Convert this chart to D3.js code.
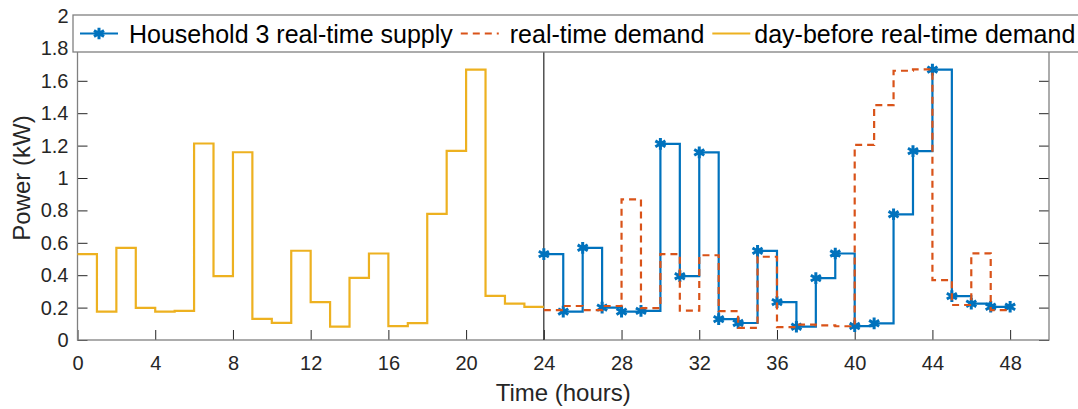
<!DOCTYPE html>
<html>
<head>
<meta charset="utf-8">
<script src="https://cdn.jsdelivr.net/npm/d3@7"></script>
<style>
  body { margin: 0; background: #fff; }
  svg { font-family: "Liberation Sans", Arial, Helvetica, sans-serif; }
</style>
</head>
<body>
<svg id="chart" width="1078" height="409"></svg>
<script>
// day-before demand, hours 0..24 (stairs, last point repeats the last step)
const dayBeforeHours = d3.range(0, 25);
const dayBeforeDemand = [0.53, 0.175, 0.569, 0.198, 0.175, 0.18, 1.213, 0.394, 1.159, 0.13, 0.106, 0.551,
  0.234, 0.082, 0.384, 0.534, 0.086, 0.104, 0.778, 1.167, 1.669, 0.272, 0.224, 0.204, 0.204];

// real-time, hours 24..48
const realTimeHours = d3.range(24, 49);
const supply = [0.53, 0.175, 0.569, 0.2, 0.175, 0.18, 1.211, 0.394, 1.158, 0.129, 0.105, 0.55,
  0.234, 0.082, 0.382, 0.534, 0.086, 0.103, 0.776, 1.166, 1.669, 0.271, 0.224, 0.205, 0.205];
const realTimeDemand = [0.185, 0.21, 0.185, 0.21, 0.868, 0.197, 0.53, 0.181, 0.523, 0.178, 0.075, 0.514,
  0.08, 0.095, 0.09, 0.085, 1.204, 1.45, 1.662, 1.67, 0.37, 0.216, 0.535, 0.185, 0.185];

const xTicks = [0, 4, 8, 12, 16, 20, 24, 28, 32, 36, 40, 44, 48];
const yTicks = [0, 0.2, 0.4, 0.6, 0.8, 1, 1.2, 1.4, 1.6, 1.8, 2];
const legendLabels = ["Household 3 real-time supply", "real-time demand", "day-before real-time demand"];

const colors = { supply: "#0072BD", demand: "#D95319", dayBefore: "#EDB120" };

const plot = { left: 77.5, right: 1049, top: 16, bottom: 340 };
const svg = d3.select("#chart");

const xScale = d3.scaleLinear().domain([0, 50]).range([plot.left, plot.right]);
const yScale = d3.scaleLinear().domain([0, 2]).range([plot.bottom, plot.top]);

svg.append("rect").attr("width", 1078).attr("height", 409).attr("fill", "#fff");

// axes, ticks inside like matlab
const axisColor = "#262626";
const tickLen = 10;
const g = svg.append("g");

const xAxisGen = d3.axisBottom(xScale).tickValues(xTicks).tickSize(-tickLen).tickPadding(16).tickFormat(d3.format("d"));
const yAxisGen = d3.axisLeft(yScale).tickValues(yTicks).tickSize(-tickLen).tickPadding(9).tickFormat(d => d3.format("~g")(d));

const xAxis = g.append("g").attr("transform", `translate(0,${plot.bottom})`).call(xAxisGen);
const yAxis = g.append("g").attr("transform", `translate(${plot.left},0)`).call(yAxisGen);
const yAxisR = g.append("g").attr("transform", `translate(${plot.right},0)`)
  .call(d3.axisRight(yScale).tickValues(yTicks).tickSize(-tickLen).tickFormat(""));

[xAxis, yAxis, yAxisR].forEach(a => {
  a.select(".domain").remove();
  a.selectAll("line").attr("stroke", axisColor).attr("stroke-width", 1);
  a.selectAll("text").attr("fill", "#262626").attr("font-size", 20);
});

g.append("rect")
  .attr("x", plot.left).attr("y", plot.top)
  .attr("width", plot.right - plot.left).attr("height", plot.bottom - plot.top)
  .attr("fill", "none").attr("stroke", "#808080").attr("stroke-width", 1.3);

// day boundary
g.append("line")
  .attr("x1", xScale(24)).attr("x2", xScale(24))
  .attr("y1", plot.bottom).attr("y2", plot.top)
  .attr("stroke", "#262626").attr("stroke-width", 1.2);

const stairs = d3.line()
  .x(d => xScale(d[0]))
  .y(d => yScale(d[1]))
  .curve(d3.curveStepAfter);

const supplyPts = realTimeHours.map((h, i) => [h, supply[i]]);
const demandPts = realTimeHours.map((h, i) => [h, realTimeDemand[i]]);
const dayBeforePts = dayBeforeHours.map((h, i) => [h, dayBeforeDemand[i]]);

g.append("path").datum(supplyPts).attr("d", stairs)
  .attr("fill", "none").attr("stroke", colors.supply).attr("stroke-width", 2.2);

const star = d3.symbol().type(d3.symbolAsterisk).size(95);
g.selectAll(".mk").data(supplyPts).join("path")
  .attr("class", "mk")
  .attr("d", star)
  .attr("transform", d => `translate(${xScale(d[0])},${yScale(d[1])})`)
  .attr("fill", "none").attr("stroke", colors.supply).attr("stroke-width", 3);

g.append("path").datum(demandPts).attr("d", stairs)
  .attr("fill", "none").attr("stroke", colors.demand).attr("stroke-width", 2.2)
  .attr("stroke-dasharray", "7,5");

g.append("path").datum(dayBeforePts).attr("d", stairs)
  .attr("fill", "none").attr("stroke", colors.dayBefore).attr("stroke-width", 2.2);

// axis titles
svg.append("text")
  .attr("x", (plot.left + plot.right) / 2).attr("y", 401)
  .attr("text-anchor", "middle").attr("font-size", 24).attr("fill", "#262626")
  .text("Time (hours)");
svg.append("text")
  .attr("transform", `translate(30,${(plot.top + plot.bottom) / 2}) rotate(-90)`)
  .attr("text-anchor", "middle").attr("font-size", 24).attr("fill", "#262626")
  .text("Power (kW)");

// legend, one row across the top
const legend = svg.append("g");
const legBox = legend.append("rect")
  .attr("x", 73).attr("y", 15).attr("height", 37)
  .attr("fill", "#fff").attr("stroke", "#808080").attr("stroke-width", 1.3);

const legY = 33.5;
const sampleLen = 38;
const textGap = [11, 11, 4];
let cx = 80;
legendLabels.forEach((label, i) => {
  const key = ["supply", "demand", "dayBefore"][i];
  const ln = legend.append("line")
    .attr("x1", cx).attr("x2", cx + sampleLen)
    .attr("y1", legY).attr("y2", legY)
    .attr("stroke", colors[key]).attr("stroke-width", 2.2);
  if (key === "demand") ln.attr("stroke-dasharray", "7,5");
  if (key === "supply") {
    legend.append("path").attr("d", star)
      .attr("transform", `translate(${cx + sampleLen / 2},${legY})`)
      .attr("fill", "none").attr("stroke", colors.supply).attr("stroke-width", 3);
  }
  const t = legend.append("text")
    .attr("x", cx + sampleLen + textGap[i]).attr("y", legY + 9)
    .attr("font-size", 25).attr("fill", "#000")
    .text(label);
  cx = cx + sampleLen + textGap[i] + t.node().getComputedTextLength() + 8;
});
legBox.attr("width", cx - 73);
</script>
</body>
</html>
